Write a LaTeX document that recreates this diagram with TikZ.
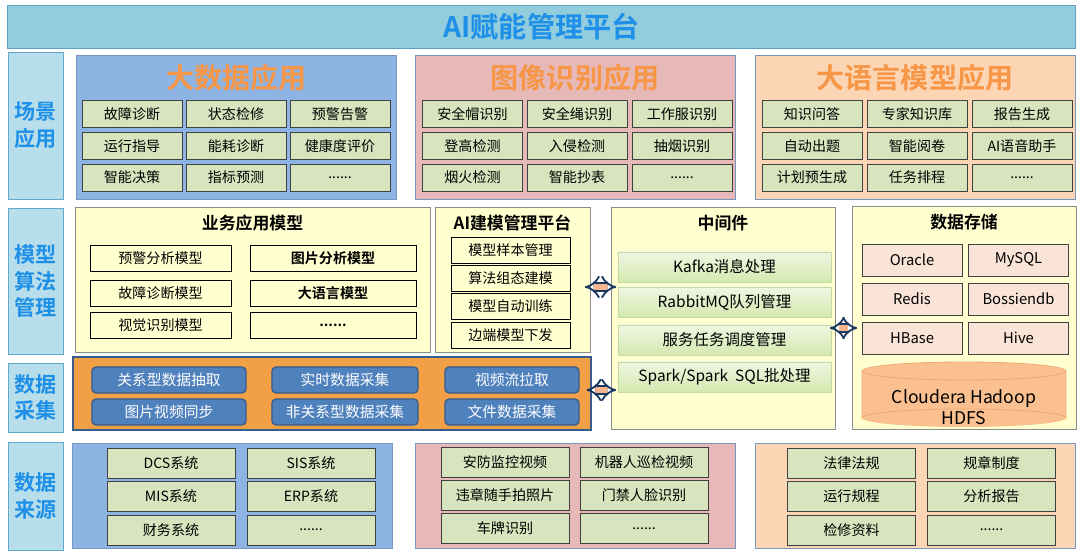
\documentclass[tikz,border=0pt]{standalone}
\usepackage{fontspec}
\setmainfont{Noto Sans CJK SC}[BoldFont={Noto Sans CJK SC Bold}]
\usetikzlibrary{shapes.geometric, arrows.meta}

\definecolor{barfill}{RGB}{146,205,222}
\definecolor{barline}{RGB}{96,160,196}
\definecolor{titleblue}{RGB}{30,144,232}
\definecolor{labfill}{RGB}{183,222,234}
\definecolor{labline}{RGB}{96,170,206}
\definecolor{bluepanel}{RGB}{141,180,226}
\definecolor{pinkpanel}{RGB}{230,185,184}
\definecolor{peachpanel}{RGB}{252,213,181}
\definecolor{panelline}{RGB}{120,150,190}
\definecolor{cellgreen}{RGB}{215,228,189}
\definecolor{apporange}{RGB}{247,150,70}
\definecolor{lightyel}{RGB}{255,255,208}
\definecolor{acqorange}{RGB}{242,160,70}
\definecolor{blueline}{RGB}{56,93,138}
\definecolor{cellblue}{RGB}{79,129,189}
\definecolor{midtop}{RGB}{240,246,226}
\definecolor{midbot}{RGB}{212,232,176}
\definecolor{midline}{RGB}{196,218,160}
\definecolor{dbfill}{RGB}{250,228,216}
\definecolor{cylfill}{RGB}{250,192,144}
\definecolor{cylline}{RGB}{236,170,120}
\definecolor{arrowfill}{RGB}{250,180,140}
\definecolor{arrowline}{RGB}{23,55,94}

\begin{document}
\begin{tikzpicture}[x=0.025cm, y=-0.025cm]
	\tikzstyle{side} = [draw=labline, fill=labfill, line width=0.6pt, text=titleblue, align=center, minimum width=1.375cm, inner sep=0pt, font=\fontsize{15}{19}\selectfont\bfseries]
	\tikzstyle{panel} = [draw=panelline, line width=0.6pt, minimum width=8cm, inner sep=0pt]
	\tikzstyle{bigtitle} = [text=apporange, font=\fontsize{20}{24}\selectfont\bfseries]
	\tikzstyle{cell} = [draw=black!75, fill=cellgreen, line width=0.6pt, minimum width=2.5cm, minimum height=0.675cm, inner sep=0pt, font=\fontsize{10}{12}\selectfont]
	\tikzstyle{srccell} = [cell, minimum width=3.2cm, minimum height=0.75cm]
	\tikzstyle{ypanel} = [draw=black!45, fill=lightyel, line width=0.6pt, inner sep=0pt]
	\tikzstyle{subtitle} = [font=\fontsize{12}{14}\selectfont\bfseries]
	\tikzstyle{ycell} = [draw=black, fill=lightyel, line width=0.6pt, minimum height=0.65cm, inner sep=0pt, font=\fontsize{10}{12}\selectfont]
	\tikzstyle{bluecell} = [draw=blueline, fill=cellblue, line width=1pt, rounded corners=3pt, text=white, minimum height=0.65cm, inner sep=0pt, font=\fontsize{10.5}{12}\selectfont]
	\tikzstyle{midcell} = [draw=midline, top color=midtop, bottom color=midbot, minimum width=5.325cm, minimum height=0.75cm, inner sep=0pt, font=\fontsize{11}{13}\selectfont]
	\tikzstyle{dbcell} = [draw=black!75, fill=dbfill, line width=0.6pt, minimum width=2.5cm, minimum height=0.8cm, inner sep=0pt, font=\fontsize{10.5}{12}\selectfont]
	\tikzstyle{link} = [draw=arrowline, double=arrowfill, double distance=4.2pt, line width=1.3pt, arrows={Implies-Implies}, shorten <=-4pt, shorten >=-4pt]

	\useasboundingbox (0,0) rectangle (1080,551);

	% title bar
	\node[draw=barline, fill=barfill, line width=0.6pt, minimum width=26.675cm, minimum height=1.075cm, text=titleblue, font=\fontsize{20}{24}\selectfont\bfseries] (top) at (541.5,26.5) {AI赋能管理平台};

	% left column
	\node[side, minimum height=3.675cm] (scene) at (35.5,125.5) {场景\\应用};
	\node[side, minimum height=3.65cm] (algo) at (35.5,281) {模型\\算法\\管理};
	\node[side, minimum height=1.725cm] (acq) at (35.5,397.5) {数据\\采集};
	\node[side, minimum height=2.7cm] (src) at (35.5,496) {数据\\来源};

	% scene applications
	\node[panel, fill=bluepanel, minimum height=3.6cm] (bigdata) at (236.5,127) {};
	\node[bigtitle] (bigdataT) at (236.5,78) {大数据应用};
	\node[cell] (bd1) at (132,114) {故障诊断};
	\node[cell] (bd2) at (236,114) {状态检修};
	\node[cell] (bd3) at (340,114) {预警告警};
	\node[cell] (bd4) at (132,146) {运行指导};
	\node[cell] (bd5) at (236,146) {能耗诊断};
	\node[cell] (bd6) at (340,146) {健康度评价};
	\node[cell] (bd7) at (132,177.5) {智能决策};
	\node[cell] (bd8) at (236,177.5) {指标预测};
	\node[cell] (bd9) at (340,177.5) {......};

	\node[panel, fill=pinkpanel, minimum height=3.6cm] (image) at (575,127) {};
	\node[bigtitle] (imageT) at (575,78) {图像识别应用};
	\node[cell] (im1) at (472.5,114) {安全帽识别};
	\node[cell] (im2) at (577,114) {安全绳识别};
	\node[cell] (im3) at (682,114) {工作服识别};
	\node[cell] (im4) at (472.5,146) {登高检测};
	\node[cell] (im5) at (577,146) {入侵检测};
	\node[cell] (im6) at (682,146) {抽烟识别};
	\node[cell] (im7) at (472.5,177.5) {烟火检测};
	\node[cell] (im8) at (577,177.5) {智能抄表};
	\node[cell] (im9) at (682,177.5) {......};

	\node[panel, fill=peachpanel, minimum height=3.6cm] (llm) at (915,127) {};
	\node[bigtitle] (llmT) at (915,78) {大语言模型应用};
	\node[cell] (lm1) at (812,114) {知识问答};
	\node[cell] (lm2) at (917,114) {专家知识库};
	\node[cell] (lm3) at (1022,114) {报告生成};
	\node[cell] (lm4) at (812,146) {自动出题};
	\node[cell] (lm5) at (917,146) {智能阅卷};
	\node[cell] (lm6) at (1022,146) {AI语音助手};
	\node[cell] (lm7) at (812,177.5) {计划预生成};
	\node[cell] (lm8) at (917,177.5) {任务排程};
	\node[cell] (lm9) at (1022,177.5) {......};

	% models
	\node[ypanel, minimum width=8.875cm, minimum height=3.625cm] (biz) at (252.5,279.5) {};
	\node[subtitle] (bizT) at (252.5,223) {业务应用模型};
	\node[ycell, minimum width=3.525cm] (bz1) at (160.5,258) {预警分析模型};
	\node[ycell, minimum width=3.525cm] (bz2) at (160.5,293.5) {故障诊断模型};
	\node[ycell, minimum width=3.525cm] (bz3) at (160.5,325.5) {视觉识别模型};
	\node[ycell, minimum width=4.15cm, font=\fontsize{10}{12}\selectfont\bfseries] (bz4) at (333,258) {图片分析模型};
	\node[ycell, minimum width=4.15cm, font=\fontsize{10}{12}\selectfont\bfseries] (bz5) at (333,293.5) {大语言模型};
	\node[ycell, minimum width=4.15cm, font=\fontsize{10}{12}\selectfont\bfseries] (bz6) at (333,325.5) {......};

	\node[ypanel, minimum width=3.875cm, minimum height=3.625cm] (aimgmt) at (512.5,279.5) {};
	\node[subtitle] (aimgmtT) at (512.5,223) {AI建模管理平台};
	\node[ycell, minimum width=2.975cm] (am1) at (510.5,250) {模型样本管理};
	\node[ycell, minimum width=2.975cm] (am2) at (510.5,278.5) {算法组态建模};
	\node[ycell, minimum width=2.975cm] (am3) at (510.5,306.5) {模型自动训练};
	\node[ycell, minimum width=2.975cm] (am4) at (510.5,335.5) {边端模型下发};

	% data collection
	\node[draw=blueline, fill=acqorange, line width=1.5pt, minimum width=12.95cm, minimum height=1.825cm, inner sep=0pt] (collect) at (332,393.5) {};
	\node[bluecell, minimum width=3.85cm] (co1) at (169,380) {关系型数据抽取};
	\node[bluecell, minimum width=3.65cm] (co2) at (345,380) {实时数据采集};
	\node[bluecell, minimum width=3.35cm] (co3) at (512,380) {视频流拉取};
	\node[bluecell, minimum width=3.85cm] (co4) at (169,412) {图片视频同步};
	\node[bluecell, minimum width=3.65cm] (co5) at (345,412) {非关系型数据采集};
	\node[bluecell, minimum width=3.35cm] (co6) at (512,412) {文件数据采集};

	% middleware
	\node[ypanel, minimum width=5.6cm, minimum height=5.55cm] (mid) at (723,318) {};
	\node[subtitle] (midT) at (723,223) {中间件};
	\node[midcell] (md1) at (724.5,267) {Kafka消息处理};
	\node[midcell] (md2) at (724.5,302) {RabbitMQ队列管理};
	\node[midcell] (md3) at (724.5,340) {服务任务调度管理};
	\node[midcell] (md4) at (724.5,377) {Spark/Spark\ \ SQL批处理};

	% storage
	\node[ypanel, minimum width=5.6cm, minimum height=5.575cm] (store) at (964,317.5) {};
	\node[subtitle] (storeT) at (964,222) {数据存储};
	\node[dbcell] (db1) at (912,260) {Oracle};
	\node[dbcell] (db2) at (1018.5,260) {MySQL};
	\node[dbcell] (db3) at (912,299) {Redis};
	\node[dbcell] (db4) at (1018.5,299) {Bossiendb};
	\node[dbcell] (db5) at (912,338) {HBase};
	\node[dbcell] (db6) at (1018.5,338) {Hive};
	% cylinder
	\fill[cylfill] (862,371) rectangle (1066,418);
	\fill[cylfill] (964,418) ellipse [x radius=102, y radius=9];
	\draw[cylline, line width=0.6pt] (862,371) -- (862,418) arc[start angle=180, end angle=360, x radius=102, y radius=9] -- (1066,371);
	\draw[cylline, fill=cylfill, line width=0.6pt] (964,371) ellipse [x radius=102, y radius=9];
	\node[align=center, font=\fontsize{12.5}{15}\selectfont] (hdfs) at (964,407.5) {Cloudera Hadoop\\HDFS};

	\draw[link] ([yshift=-0.1875cm]aimgmt.east) -- ([yshift=0.775cm]mid.west);
	\draw[link] ([yshift=0.0875cm]collect.east) -- ([yshift=-1.8cm]mid.west);
	\draw[link] ([yshift=-0.25cm]mid.east) -- ([yshift=-0.2625cm]store.west);

	% data sources
	\node[panel, fill=bluepanel, minimum height=2.625cm] (bigsrc) at (232.5,495.5) {};
	\node[srccell] (bs1) at (171,463) {DCS系统};
	\node[srccell] (bs2) at (311,463) {SIS系统};
	\node[srccell] (bs3) at (171,496) {MIS系统};
	\node[srccell] (bs4) at (311,496) {ERP系统};
	\node[srccell] (bs5) at (171,530) {财务系统};
	\node[srccell] (bs6) at (311,530) {......};

	\node[panel, fill=pinkpanel, minimum height=2.625cm] (imgsrc) at (575,495.5) {};
	\node[srccell] (is1) at (505,462) {安防监控视频};
	\node[srccell] (is2) at (644,462) {机器人巡检视频};
	\node[srccell] (is3) at (505,495.5) {违章随手拍照片};
	\node[srccell] (is4) at (644,495.5) {门禁人脸识别};
	\node[srccell] (is5) at (505,528.5) {车牌识别};
	\node[srccell] (is6) at (644,528.5) {......};

	\node[panel, fill=peachpanel, minimum height=2.625cm] (docsrc) at (915,495.5) {};
	\node[srccell] (ds1) at (851.5,463) {法律法规};
	\node[srccell] (ds2) at (991.5,463) {规章制度};
	\node[srccell] (ds3) at (851.5,496.5) {运行规程};
	\node[srccell] (ds4) at (991.5,496.5) {分析报告};
	\node[srccell] (ds5) at (851.5,530) {检修资料};
	\node[srccell] (ds6) at (991.5,530) {......};
\end{tikzpicture}
\end{document}
